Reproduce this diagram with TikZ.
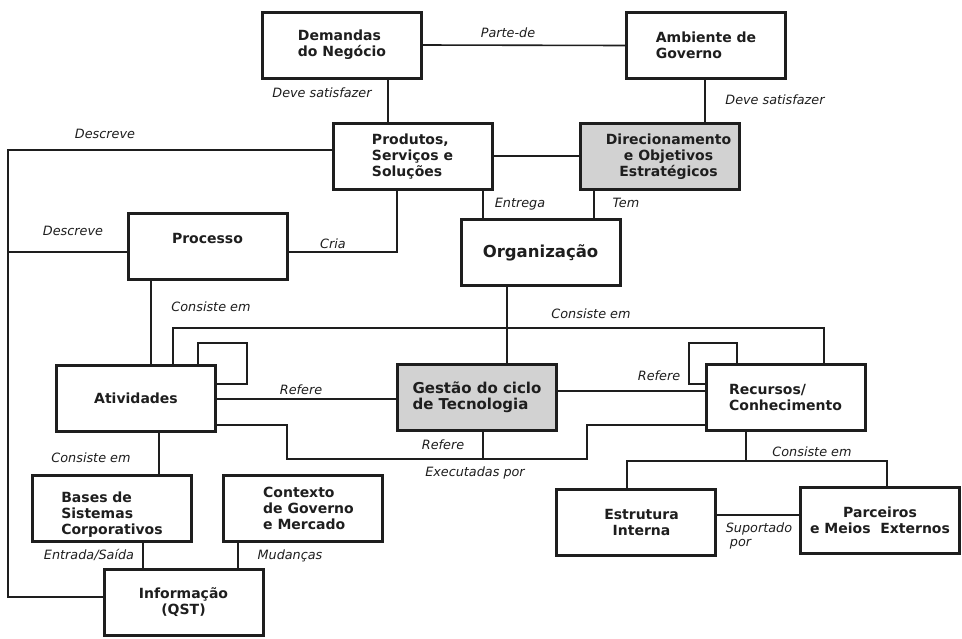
\documentclass[tikz,border=0pt]{standalone}
\usepackage{fontspec}
\setmainfont{DejaVu Sans}
\usetikzlibrary{calc}
\definecolor{ink}{HTML}{1E1E1E}
\definecolor{boxgray}{HTML}{D2D2D2}
\tikzset{
  box/.style={draw=ink, line width=3pt, fill=white, minimum width=159pt,
    minimum height=66pt, inner sep=2pt, text=ink, align=left,
    font=\fontsize{14}{16}\selectfont\bfseries},
  shaded/.style={box, fill=boxgray},
  link/.style={draw=ink, line width=1.6pt},
  rel/.style={font=\fontsize{12.8}{14.5}\selectfont\itshape, text=ink, inner sep=1pt},
}
\begin{document}
\begin{tikzpicture}[x=1pt,y=-1pt]
\useasboundingbox (0,0) rectangle (962,638);
\fill[white] (0,0) rectangle (962,638);

% concept boxes
\node[box] (dem) at (342,45) {Demandas\\do Negócio};
\node[box] (amb) at (706,45.5) {Ambiente de\\Governo};
\node[box] (prod) at (412.5,156.5) {Produtos,\\Serviços e\\Soluções};
\node[shaded, align=center] (dir) at (659.5,156.5)
  {\hspace*{18pt}Direcionamento\\\hspace*{18pt}e Objetivos\\\hspace*{18pt}Estratégicos};
\node[box] (proc) at (207.5,246) {Processo\\\mbox{}};
\node[box, font=\fontsize{16.5}{18}\selectfont\bfseries] (org) at (540.5,252.5) {Organização};
\node[box] (ativ) at (136,398) {Atividades};
\node[shaded, font=\fontsize{15}{16.5}\selectfont\bfseries] (gest) at (477,397.5) {Gestão do ciclo\\de Tecnologia};
\node[box] (rec) at (785.5,397.5) {Recursos/\\Conhecimento};
\node[box] (bases) at (112,508) {\rule{0pt}{24pt}Bases de\\Sistemas\\Corporativos};
\node[box] (ctx) at (302.5,508) {\hspace*{12pt}Contexto\\\hspace*{12pt}de Governo\\\hspace*{12pt}e Mercado};
\node[box, align=center] (info) at (183.5,602.5) {Informação\\(QST)};
\node[box, align=center] (estr) at (635.5,522) {\hspace*{12pt}Estrutura\\\hspace*{12pt}Interna};
\node[box, align=center] (parc) at (880,520) {Parceiros\\e Meios\ \ Externos};

% routing points
\coordinate (demDrop) at (388,100);
\coordinate (ambDrop) at (705,100);
\coordinate (prodRow) at (500,156);
\coordinate (railTop) at (8,150);
\coordinate (railBot) at (8,597);
\coordinate (cria) at (397,252);
\coordinate (entrega) at (483,205);
\coordinate (tem) at (594,205);
\coordinate (orgDrop) at (507,300);
\coordinate (busL) at (173,328);
\coordinate (busR) at (824,328);
\coordinate (procDrop) at (151,300);
\coordinate (loopA1) at (198,343);
\coordinate (loopA2) at (247,384);
\coordinate (loopR1) at (737,343);
\coordinate (loopR2) at (689,384);
\coordinate (refA) at (300,399);
\coordinate (refR) at (630,391);
\coordinate (exL) at (287,459);
\coordinate (exR) at (587,425);
\coordinate (gestDrop) at (483,459);
\coordinate (ativDrop) at (159,450);
\coordinate (basesDrop) at (143,555);
\coordinate (ctxDrop) at (238,555);
\coordinate (rbC) at (746,461);
\coordinate (rbL) at (627,461);
\coordinate (rbR) at (887,461);
\coordinate (supRow) at (760,515);

% connectors
\draw[link] (dem.east) -- (amb.west);
\draw[link] (dem.south -| demDrop) -- (prod.north -| demDrop);
\draw[link] (amb.south -| ambDrop) -- (dir.north -| ambDrop);
\draw[link] (prod.east |- prodRow) -- (dir.west |- prodRow);
\draw[link] (prod.west |- railTop) -- (railTop) -- (railBot) -- (info.west |- railBot);
\draw[link] (proc.west |- cria) -- (railTop |- cria);
\draw[link] (proc.east |- cria) -- (cria) -- (cria |- prod.south);
\draw[link] (prod.south -| entrega) -- (org.north -| entrega);
\draw[link] (dir.south -| tem) -- (org.north -| tem);
\draw[link] (org.south -| orgDrop) -- (gest.north -| orgDrop);
\draw[link] (ativ.north -| busL) -- (busL) -- (busR) -- (rec.north -| busR);
\draw[link] (proc.south -| procDrop) -- (ativ.north -| procDrop);
\draw[link] (ativ.north -| loopA1) -- (loopA1) -- (loopA1 -| loopA2) -- (loopA2) -- (ativ.east |- loopA2);
\draw[link] (rec.north -| loopR1) -- (loopR1) -- (loopR1 -| loopR2) -- (loopR2) -- (rec.west |- loopR2);
\draw[link] (ativ.east |- refA) -- (gest.west |- refA);
\draw[link] (gest.east |- refR) -- (rec.west |- refR);
\draw[link] (ativ.east |- exR) -- (exL |- exR) -- (exL) -- (exL -| exR) -- (exR) -- (rec.west |- exR);
\draw[link] (gest.south -| gestDrop) -- (gestDrop);
\draw[link] (ativ.south -| ativDrop) -- (bases.north -| ativDrop);
\draw[link] (bases.south -| basesDrop) -- (info.north -| basesDrop);
\draw[link] (ctx.south -| ctxDrop) -- (info.north -| ctxDrop);
\draw[link] (rec.south -| rbC) -- (rbC);
\draw[link] (estr.north -| rbL) -- (rbL) -- (rbR) -- (parc.north -| rbR);
\draw[link] (estr.east |- supRow) -- (parc.west |- supRow);

% relation labels
\node[rel] (lParte) at (508,33) {Parte-de};
\node[rel] (lDeve1) at (322,93) {Deve satisfazer};
\node[rel] (lDeve2) at (775,100) {Deve satisfazer};
\node[rel] (lDesc1) at (105,134) {Descreve};
\node[rel] (lDesc2) at (73,231) {Descreve};
\node[rel] (lCria) at (333,244) {Cria};
\node[rel] (lEntrega) at (520,204) {Entrega};
\node[rel] (lTem) at (626,203) {Tem};
\node[rel] (lCons1) at (591,314) {Consiste em};
\node[rel] (lCons2) at (211,307) {Consiste em};
\node[rel] (lRef1) at (301,390) {Refere};
\node[rel] (lRef2) at (659,376) {Refere};
\node[rel] (lRef3) at (443,445) {Refere};
\node[rel] (lExec) at (475,473) {Executadas por};
\node[rel] (lCons3) at (91,458) {Consiste em};
\node[rel] (lES) at (89,555) {Entrada/Saída};
\node[rel] (lMud) at (290,556) {Mudanças};
\node[rel] (lCons4) at (812,452) {Consiste em};
\node[rel, align=left] (lSup) at (759,536) {Suportado\\\ por};
\end{tikzpicture}
\end{document}
